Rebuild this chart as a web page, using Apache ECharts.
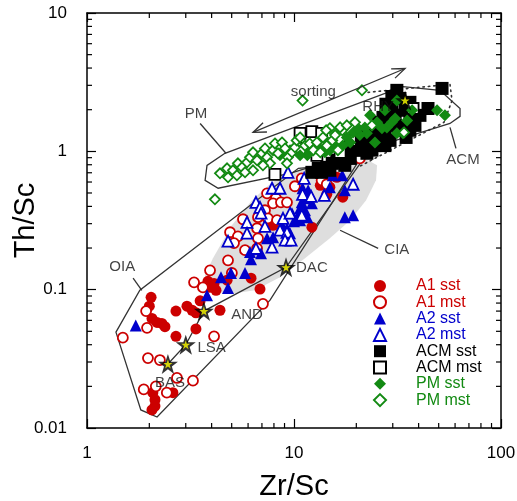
<!DOCTYPE html>
<html>
<head>
<meta charset="utf-8">
<script src="https://cdn.jsdelivr.net/npm/echarts@6/dist/echarts.min.js"></script>
<style>
html, body { margin: 0; padding: 0; background: #fff; }
#main { width: 517px; height: 501px; }
</style>
</head>
<body>
<div id="main"></div>
<script>
// Zr/Sc (x) vs Th/Sc (y)
var a1Sst = [[2.04,0.088],[2.0,0.076],[2.06,0.062],[2.18,0.058],[2.3,0.057],[2.38,0.054],[2.69,0.070],[3.04,0.076],[3.22,0.071],[3.36,0.068],[3.52,0.083],[4.39,0.071],[2.69,0.046],[3.36,0.052],[2.08,0.018],[2.13,0.016],[2.13,0.0144],[2.06,0.0135],[2.6,0.018],[3.93,0.104],[4.2,0.099],[4.11,0.111],[3.84,0.115],[6.85,0.101],[6.2,0.121],[4.75,0.117],[7.92,0.292],[12.2,0.283],[17.2,0.466],[14.9,0.55],[16.1,0.649],[13.4,0.568],[14.4,0.489]]
var a1Mst = [[3.29,0.113],[3.63,0.104],[1.93,0.070],[1.95,0.053],[1.49,0.045],[4.11,0.046],[1.97,0.032],[2.25,0.031],[2.72,0.023],[3.25,0.022],[1.88,0.019],[2.15,0.020],[2.43,0.018],[7.08,0.079],[3.93,0.138],[4.8,0.163],[5.01,0.132],[5.8,0.193],[4.91,0.26],[5.36,0.243],[5.13,0.217],[5.67,0.323],[6.63,0.278],[6.7,0.235],[6.63,0.199],[7.41,0.497],[8.18,0.458],[7.92,0.421],[8.65,0.428],[9.25,0.428],[7.24,0.375],[6.7,0.334],[7.48,0.328],[10.1,0.559],[10.9,0.638],[13.6,0.617],[14.4,0.578],[8.28,0.318],[20.8,0.889]]
var a2Sst = [[1.72,0.055],[3.8,0.091],[4.44,0.123],[4.96,0.132],[5.8,0.132],[4.8,0.103],[6.2,0.166],[6.13,0.187],[6.55,0.196],[6.93,0.183],[7.41,0.235],[7.92,0.239],[8.75,0.292],[9.25,0.278],[9.57,0.256],[9.35,0.228],[9.78,0.357],[10.5,0.345],[10.0,0.312],[10.7,0.318],[11.6,0.334],[10.9,0.428],[11.6,0.458],[12.2,0.421],[10.7,0.388],[11.3,0.375],[11.7,0.523],[11.0,0.541],[14.9,0.55],[17.6,0.523],[17.6,0.334],[19.3,0.345],[14.4,0.705],[15.4,0.671],[17.1,0.671]]
var a2Mst = [[7.83,0.541],[8.56,0.541],[9.35,0.705],[11.2,0.638],[11.0,0.489],[12.1,0.473],[14.0,0.481],[19.3,0.578],[6.55,0.428],[6.85,0.394],[6.93,0.357],[5.93,0.307],[5.93,0.256],[4.8,0.224],[7.24,0.287],[8.85,0.328],[9.57,0.357],[10.9,0.345],[8.56,0.269],[9.25,0.26],[9.05,0.228],[9.68,0.228],[7.83,0.203],[6.55,0.199],[14.4,0.729]]
var acmSst = [[51.9,2.85],[31.4,2.76],[32.5,2.41],[44.4,2.04],[36.3,1.73],[33.6,1.49],[36.3,1.42],[34.8,1.26],[28.4,1.91],[26.9,1.76],[25.5,1.62],[27.5,1.37],[25.5,1.26],[24.1,1.16],[27.5,1.10],[20.8,1.10],[19.7,1.02],[18.0,0.968],[17.1,0.935],[22.5,0.968],[23.8,1.02],[16.1,0.861],[15.3,0.819],[14.4,0.766],[13.1,0.754],[13.6,0.705],[19.1,1.20],[22.0,1.37],[30.8,1.54],[29.7,2.15],[23.3,1.31],[34.4,1.98],[18.7,0.889],[21.3,1.02],[24.6,1.10],[29.1,1.20],[31.8,1.42],[38.4,1.54],[40.6,1.82],[30.8,1.82],[26.0,1.47],[19.7,1.20],[17.6,0.792],[14.9,0.729],[12.2,0.705],[16.7,0.833],[22.8,1.20],[27.8,2.19],[29.7,2.49],[36.3,2.26]]
var acmMst = [[10.7,1.35],[12.2,1.39],[13.6,1.35],[8.09,0.682],[12.9,0.935],[16.7,0.984],[14.3,1.10],[18.7,1.20],[37.6,2.04],[10.9,1.05]]
var pmSst = [[53.6,1.82],[49.1,1.98],[37.2,1.98],[31.4,2.33],[35.2,1.67],[33.6,1.35],[31.4,1.35],[29.7,1.62],[28.1,1.49],[26.6,1.47],[25.2,1.62],[24.6,1.16],[22.5,1.35],[20.8,1.31],[19.3,1.37],[20.4,1.47],[22.0,1.49],[18.0,1.26],[18.7,1.16],[17.2,1.10],[16.3,1.05],[15.4,1.14],[14.9,1.02],[14.1,0.984],[13.1,1.05],[11.9,0.984],[11.6,0.935],[30.8,1.73],[16.7,1.47],[10.7,0.935],[9.57,1.02],[8.56,0.935],[23.3,1.82],[27.5,1.98]]
var pmMst = [[4.39,0.694],[4.8,0.649],[4.75,0.754],[5.07,0.729],[5.36,0.819],[5.61,0.766],[5.93,0.833],[6.13,0.905],[6.34,0.984],[6.63,0.861],[7.0,0.968],[7.24,1.05],[7.41,0.905],[7.66,0.819],[7.92,1.02],[8.37,0.968],[8.09,1.14],[8.75,1.16],[9.05,1.05],[9.35,0.905],[9.25,0.819],[9.78,0.984],[10.1,1.07],[10.3,1.20],[10.7,1.26],[11.3,1.10],[11.9,1.14],[12.4,1.02],[12.9,1.16],[13.4,0.984],[13.8,1.26],[14.4,1.10],[15.3,1.20],[15.8,1.31],[16.3,1.02],[17.1,1.42],[6.34,0.729],[7.08,0.792],[5.8,0.705],[5.3,0.671],[11.0,2.33],[21.3,2.76],[16.7,1.49],[23.8,1.54],[34.0,1.37],[4.15,0.45],[18.0,1.54],[14.9,1.47],[19.7,1.62],[14.3,1.42]]

// reference rocks: BAS, LSA, AND, DAC, RHY
var refNames = ['BAS', 'LSA', 'AND', 'DAC', 'RHY']
var refPoints = [[2.46,0.029],[3.0,0.04],[3.67,0.07],[9.15,0.145],[34.4,2.33]]

// fields
var ciaField = [[3.76,0.099],[3.72,0.127],[4.06,0.169],[5.01,0.292],[6.27,0.443],[7.83,0.598],[10.5,0.729],[15.8,0.847],[22.0,0.889],[25.2,0.792],[24.9,0.617],[22.3,0.443],[18.7,0.318],[14.9,0.235],[11.3,0.169],[8.56,0.123],[6.48,0.099],[4.91,0.093]]
var oiaField = [[1.38,0.0493],[1.82,0.0135],[2.18,0.012],[7.66,0.084],[20.2,0.819],[10.5,0.754],[1.8,0.099]]
var pmField = [[4.64,0.968],[3.8,0.792],[3.72,0.617],[4.3,0.541],[9.57,0.694],[56.7,1.59],[63.4,1.79],[63.4,2.04],[50.7,2.76],[33.6,2.94]]
var acmField = [[22.8,2.67],[56.7,3.05],[58.0,2.33],[53.0,1.62],[20.8,0.78]]
var sortingArrow = [[6.34,1.37],[34.4,3.97]]

var leaders = [
  [[3.52,1.59],[4.69,0.968]],
  [[1.67,0.121],[1.84,0.099]],
  [[56.7,1.49],[60.6,1.05]],
  [[16.7,0.269],[25.5,0.199]]
]
var labelNames = ['sorting', 'PM', 'RHY', 'ACM', 'CIA', 'OIA', 'DAC', 'AND', 'LSA', 'BAS']
var labelPoints = [[12.4,2.67],[3.36,1.88],[25.5,2.11],[65.5,0.861],[31.4,0.193],[1.48,0.145],[12.2,0.143],[5.93,0.0654],[4.0,0.0378],[2.52,0.0211]]

var xMinor = [2,3,4,5,6,7,8,9,20,30,40,50,60,70,80,90]
var yMinor = [0.02,0.03,0.04,0.05,0.06,0.07,0.08,0.09,0.2,0.3,0.4,0.5,0.6,0.7,0.8,0.9,2,3,4,5,6,7,8,9]

var RED = '#cc0000', BLUE = '#0000cc', GREEN = '#138a13', LINE = '#333'
var FONT = 'Liberation Sans, Arial, sans-serif'
var STAR = 'path://M50,2 L61.8,36.2 L97.6,36.2 L68.7,57.6 L79.4,91.8 L50,70.6 L20.6,91.8 L31.3,57.6 L2.4,36.2 L38.2,36.2 Z'

function shape(points, style, closed, z) {
  return {
    type: 'custom',
    coordinateSystem: 'cartesian2d',
    silent: true,
    z: z,
    data: [[1, 1]],
    renderItem: function (params, api) {
      var pts = points.map(function (p) { return api.coord(p) })
      return {
        type: closed ? 'polygon' : 'polyline',
        shape: { points: pts },
        style: style
      }
    }
  }
}

function points(name, data, symbol, size, color, open) {
  return {
    name: name,
    type: 'scatter',
    data: data,
    symbol: symbol,
    symbolSize: size,
    z: 3,
    itemStyle: open
      ? { color: '#fff', borderColor: color, borderWidth: 1.8, opacity: 1 }
      : { color: color, opacity: 1 }
  }
}

function main() {
  var myChart = echarts.init(document.getElementById('main'))
  var lineStyle = { fill: 'none', stroke: LINE, lineWidth: 1.3 }

  var series = [
    shape(ciaField, { fill: '#dedede', stroke: 'none' }, true, 1),
    shape(oiaField, lineStyle, true, 2),
    shape(pmField, lineStyle, true, 2),
    shape(acmField, { fill: 'none', stroke: '#333', lineWidth: 1.6, lineDash: [1.5, 4], lineCap: 'round' }, false, 2),
    shape(refPoints, lineStyle, false, 2)
  ]
  leaders.forEach(function (l) { series.push(shape(l, lineStyle, false, 2)) })

  series.push(
    points('A1 sst', a1Sst, 'circle', 11, RED, false),
    points('A1 mst', a1Mst, 'circle', 10, RED, true),
    points('A2 sst', a2Sst, 'triangle', 12, BLUE, false),
    points('A2 mst', a2Mst, 'triangle', 11, BLUE, true),
    points('ACM sst', acmSst, 'rect', 13, '#000', false),
    points('ACM mst', acmMst, 'rect', 11, '#000', true),
    points('PM sst', pmSst, 'diamond', 12, GREEN, false),
    points('PM mst', pmMst, 'diamond', 10, GREEN, true)
  )

  // sorting arrow
  series.push({
    type: 'custom',
    coordinateSystem: 'cartesian2d',
    silent: true,
    z: 4,
    data: [[1, 1]],
    renderItem: function (params, api) {
      var p = api.coord(sortingArrow[0]), q = api.coord(sortingArrow[1])
      var dx = q[0] - p[0], dy = q[1] - p[1]
      var len = Math.sqrt(dx * dx + dy * dy)
      var ux = dx / len, uy = dy / len
      function head(tip, dir) {
        var bx = tip[0] - dir * ux * 13, by = tip[1] - dir * uy * 13
        return [[bx - uy * 5, by + ux * 5], tip, [bx + uy * 5, by - ux * 5]]
      }
      var st = { fill: 'none', stroke: LINE, lineWidth: 1.3 }
      return {
        type: 'group',
        children: [
          { type: 'polyline', shape: { points: [p, q] }, style: st },
          { type: 'polyline', shape: { points: head(q, 1) }, style: st },
          { type: 'polyline', shape: { points: head(p, -1) }, style: st }
        ]
      }
    }
  })

  // reference stars
  series.push({
    type: 'scatter', data: refPoints, symbol: STAR, symbolSize: 20, silent: true, z: 5,
    itemStyle: { color: '#000' }
  }, {
    type: 'scatter', data: refPoints, symbol: STAR, symbolSize: 9, silent: true, z: 6,
    itemStyle: { color: '#ffff00' }
  })

  // field and rock labels
  series.push({
    type: 'scatter',
    silent: true,
    z: 7,
    symbolSize: 0.1,
    itemStyle: { color: 'transparent' },
    data: labelPoints.map(function (p, i) { return { name: labelNames[i], value: p } }),
    label: {
      show: true, position: 'inside', formatter: '{b}',
      color: '#111', fontSize: 15, fontFamily: FONT
    }
  })

  // minor ticks on all four sides
  series.push({
    type: 'custom', coordinateSystem: 'cartesian2d', silent: true, z: 8,
    data: xMinor.map(function (v) { return [v, 1] }),
    renderItem: function (params, api) {
      var v = api.value(0)
      var b = api.coord([v, 0.01]), t = api.coord([v, 10])
      var st = { stroke: '#000', lineWidth: 1.2 }
      return { type: 'group', children: [
        { type: 'line', shape: { x1: b[0], y1: b[1], x2: b[0], y2: b[1] - 5 }, style: st },
        { type: 'line', shape: { x1: t[0], y1: t[1], x2: t[0], y2: t[1] + 5 }, style: st }
      ] }
    }
  }, {
    type: 'custom', coordinateSystem: 'cartesian2d', silent: true, z: 8,
    data: yMinor.map(function (v) { return [1, v] }),
    renderItem: function (params, api) {
      var v = api.value(1)
      var l = api.coord([1, v]), r = api.coord([100, v])
      var st = { stroke: '#000', lineWidth: 1.2 }
      return { type: 'group', children: [
        { type: 'line', shape: { x1: l[0], y1: l[1], x2: l[0] + 5, y2: l[1] }, style: st },
        { type: 'line', shape: { x1: r[0], y1: r[1], x2: r[0] - 5, y2: r[1] }, style: st }
      ] }
    }
  })

  var axisLine = { show: true, onZero: false, lineStyle: { color: '#000', width: 1.5 } }
  var axisTick = { show: true, inside: true, length: 9, lineStyle: { color: '#000', width: 1.2 } }

  var option = {
    animation: false,
    backgroundColor: '#fff',
    textStyle: { fontFamily: FONT },
    grid: { left: 87, right: 16, top: 13, bottom: 73, containLabel: false, outerBoundsMode: 'none' },
    legend: {
      orient: 'vertical',
      left: 368,
      top: 273,
      itemWidth: 12,
      itemHeight: 12,
      itemGap: 0.3,
      textStyle: { fontSize: 16, fontFamily: FONT, padding: [0, 0, 0, 25] },
      data: [
        { name: 'A1 sst', textStyle: { color: RED } },
        { name: 'A1 mst', textStyle: { color: RED } },
        { name: 'A2 sst', textStyle: { color: BLUE } },
        { name: 'A2 mst', textStyle: { color: BLUE } },
        { name: 'ACM sst', textStyle: { color: '#000' } },
        { name: 'ACM mst', textStyle: { color: '#000' } },
        { name: 'PM sst', textStyle: { color: GREEN } },
        { name: 'PM mst', textStyle: { color: GREEN } }
      ]
    },
    xAxis: [{
      type: 'log', logBase: 10, min: 1, max: 100,
      name: 'Zr/Sc', nameLocation: 'middle', nameGap: 44, nameMoveOverlap: false,
      nameTextStyle: { fontSize: 29, color: '#000', fontFamily: FONT },
      axisLine: axisLine, axisTick: axisTick,
      axisLabel: { fontSize: 17, color: '#000', margin: 17, fontFamily: FONT },
      splitLine: { show: false }
    }, {
      type: 'log', logBase: 10, min: 1, max: 100, position: 'top',
      axisLine: axisLine, axisTick: axisTick,
      axisLabel: { show: false }, splitLine: { show: false }
    }],
    yAxis: [{
      type: 'log', logBase: 10, min: 0.01, max: 10,
      name: 'Th/Sc', nameLocation: 'middle', nameGap: 47, nameMoveOverlap: false,
      nameTextStyle: { fontSize: 29, color: '#000', fontFamily: FONT },
      axisLine: axisLine, axisTick: axisTick,
      axisLabel: { fontSize: 17, color: '#000', margin: 20, fontFamily: FONT },
      splitLine: { show: false }
    }, {
      type: 'log', logBase: 10, min: 0.01, max: 10, position: 'right',
      axisLine: axisLine, axisTick: axisTick,
      axisLabel: { show: false }, splitLine: { show: false }
    }],
    series: series
  }
  myChart.setOption(option)
}

window.onload = main
</script>
</body>
</html>
